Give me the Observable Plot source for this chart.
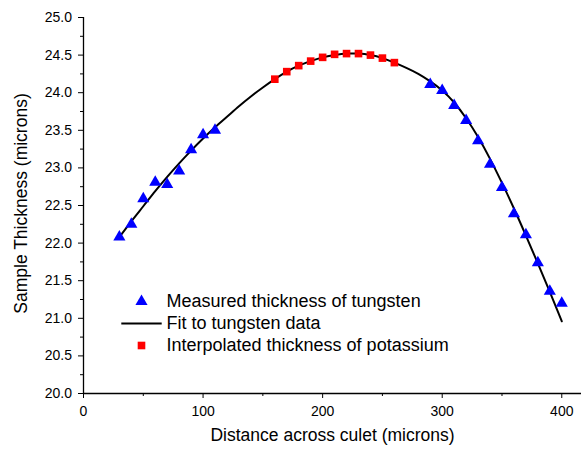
<!DOCTYPE html>
<html>
<head>
<meta charset="utf-8">
<script src="https://cdn.jsdelivr.net/npm/d3@7"></script>
<script src="https://cdn.jsdelivr.net/npm/@observablehq/plot@0.6"></script>
<style>
  html, body { margin: 0; padding: 0; background: #fff; overflow: hidden; }
  #chart svg { display: block; }
</style>
</head>
<body>
<div id="chart"></div>
<script>
// ---- data ----
const measuredX = [30, 40, 50, 60, 70, 80, 90, 100, 110, 290, 300, 310, 320, 330, 340, 350, 360, 370, 380, 390, 400];
const measuredY = [22.08, 22.25, 22.59, 22.81, 22.78, 22.96, 23.24, 23.44, 23.50, 24.11, 24.03, 23.83, 23.63, 23.36, 23.05, 22.74, 22.39, 22.11, 21.74, 21.36, 21.20];

const interpX = [160, 170, 180, 190, 200, 210, 220, 230, 240, 250, 260];
const interpY = [24.18, 24.28, 24.36, 24.42, 24.47, 24.51, 24.52, 24.52, 24.50, 24.46, 24.40];

const fitX = [30, 40, 50, 60, 70, 80, 90, 100, 110, 120, 130, 140, 150, 160, 170, 180, 190, 200, 210,
              220, 230, 240, 250, 260, 270, 280, 290, 300, 310, 320, 330, 340, 350, 360, 370, 380, 390, 400];
const fitY = [22.08, 22.29, 22.49, 22.69, 22.88, 23.06, 23.23, 23.39, 23.54, 23.68, 23.82, 23.95, 24.07, 24.18, 24.28, 24.36, 24.42, 24.47, 24.50,
              24.52, 24.52, 24.50, 24.46, 24.40, 24.33, 24.25, 24.15, 24.03, 23.87, 23.66, 23.41, 23.12, 22.80, 22.46, 22.10, 21.73, 21.35, 20.96];

const xTicks = [0, 100, 200, 300, 400];
const xMinorTicks = [50, 150, 250, 350];
const yTicks = [20.0, 20.5, 21.0, 21.5, 22.0, 22.5, 23.0, 23.5, 24.0, 24.5, 25.0];
const yMinorTicks = [20.25, 20.75, 21.25, 21.75, 22.25, 22.75, 23.25, 23.75, 24.25, 24.75];

const xTitle = "Distance across culet (microns)";
const yTitle = "Sample Thickness (microns)";
const legendLabels = ["Measured thickness of tungsten", "Fit to tungsten data", "Interpolated thickness of potassium"];

// ---- build tables ----
const measured = measuredX.map((x, i) => ({x, y: measuredY[i]}));
const interp = interpX.map((x, i) => ({x, y: interpY[i]}));
const fit = fitX.map((x, i) => ({x, y: fitY[i]}));

const FONT = "'Liberation Sans', Arial, Helvetica, sans-serif";
const lineSymbol = { draw(ctx) { ctx.moveTo(-20.2, 0); ctx.lineTo(20.2, 0); } };

// legend layout (pixel offsets from the frame's top-left corner)
const legX = 58, legTextX = 83, legY0 = 284, legStep = 22;

const chart = Plot.plot({
  width: 581,
  height: 453,
  marginLeft: 83,
  marginRight: 0,
  marginTop: 17,
  marginBottom: 60,
  x: { domain: [0, 416.5] },
  y: { domain: [20, 25] },
  style: { fontFamily: FONT, fontSize: "14px", color: "#000", background: "#fff", overflow: "visible" },
  marks: [
    // minor ticks
    Plot.axisX({ ticks: xMinorTicks, tickSize: 3, tickFormat: () => "", label: null, stroke: "#000" }),
    Plot.axisY({ ticks: yMinorTicks, tickSize: 3, tickFormat: () => "", label: null, stroke: "#000" }),
    // major ticks
    Plot.axisX({ ticks: xTicks, tickSize: 5, tickPadding: 8, tickFormat: d => String(d), label: null,
                 stroke: "#000", fill: "#000", fontSize: 14 }),
    Plot.axisY({ ticks: yTicks, tickSize: 5, tickPadding: 6.5, tickFormat: d => d.toFixed(1), label: null,
                 stroke: "#000", fill: "#000", fontSize: 14 }),
    // axis lines
    Plot.ruleX([0], { stroke: "#000", strokeWidth: 1.3 }),
    Plot.ruleY([20], { stroke: "#000", strokeWidth: 1.3 }),
    // fit curve
    Plot.line(fit, { x: "x", y: "y", stroke: "#000", strokeWidth: 2, curve: "natural" }),
    // data points
    Plot.dot(measured, { x: "x", y: "y", symbol: "triangle", r: 4.5, fill: "#0000ff", stroke: null }),
    Plot.dot(interp, { x: "x", y: "y", symbol: "square", r: 4.3, fill: "#ff0000", stroke: null }),
    // axis titles
    Plot.text([xTitle], { frameAnchor: "bottom", dy: 41.5, text: d => d, fontSize: 17.5, fill: "#000",
                          textAnchor: "middle", lineAnchor: "middle" }),
    Plot.text([yTitle], { frameAnchor: "left", dx: -62.5, dy: -2, rotate: -90, text: d => d, fontSize: 17.5, fill: "#000",
                          textAnchor: "middle", lineAnchor: "middle" }),
    // legend
    Plot.dot([legendLabels[0]], { frameAnchor: "top-left", dx: legX, dy: legY0, symbol: "triangle", r: 4.5, fill: "#0000ff", stroke: null }),
    Plot.dot([legendLabels[1]], { frameAnchor: "top-left", dx: legX, dy: legY0 + legStep, symbol: lineSymbol, r: 1, fill: "none", stroke: "#000", strokeWidth: 2 }),
    Plot.dot([legendLabels[2]], { frameAnchor: "top-left", dx: legX, dy: legY0 + 2 * legStep, symbol: "square", r: 4.3, fill: "#ff0000", stroke: null }),
    Plot.text(legendLabels, { frameAnchor: "top-left", dx: legTextX, dy: legY0,
      text: d => d, textAnchor: "start", lineAnchor: "middle", fontSize: 18, fill: "#000" })
  ]
});

document.getElementById("chart").appendChild(chart);

// stack the three legend labels vertically (one row per label)
d3.select(chart).selectAll("text").filter(function () {
  return legendLabels.includes(this.textContent);
}).each(function () {
  const i = legendLabels.indexOf(this.textContent);
  const t = d3.select(this);
  t.attr("transform", (t.attr("transform") || "") + ` translate(0,${i * legStep})`);
});
</script>
</body>
</html>
